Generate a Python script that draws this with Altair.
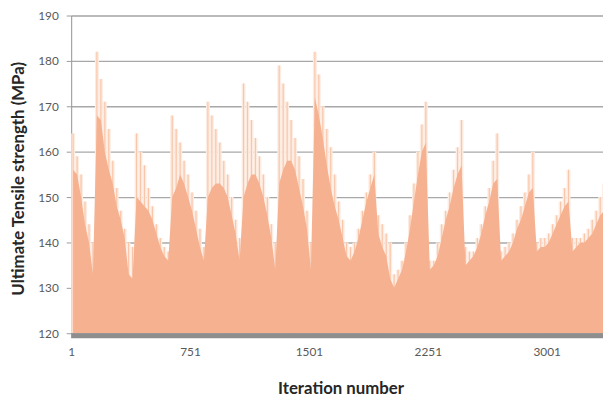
import altair as alt
import pandas as pd

# Iteration bins (each value covers STEP iterations)
STEP = 25
upper = [164, 159, 155, 149, 144, 140,
         182, 176, 171, 165, 158, 152, 147, 143, 140, 139,
         164, 160, 157, 152, 148, 144, 141, 139, 138,
         168, 165, 162, 158, 155, 151, 147, 143, 139,
         171, 168, 165, 162, 158, 155, 150, 145, 141,
         175, 171, 167, 163, 159, 155, 150, 144, 140,
         179, 175, 171, 167, 163, 159, 154, 147, 140,
         182, 177, 170, 165, 161, 155, 149, 145, 140,
         139, 140, 143, 147, 151, 155, 160,
         146, 144, 142, 140, 133, 134, 136, 140, 146, 153, 160, 166, 171,
         136, 136, 140, 144, 147, 151, 156, 161, 167,
         139, 138, 138, 141, 144, 148, 152, 158, 164,
         138, 139, 140, 142, 145, 148, 151, 155, 160,
         140, 141, 141, 142, 144, 146, 149, 152, 156,
         141, 141, 141, 142, 143, 145, 147, 150, 153]
lower = [156, 155, 150, 144, 140, 133,
         168, 167, 160, 156, 153, 148, 145, 141, 133, 132,
         150, 149, 148, 147, 145, 142, 139, 137, 136,
         150, 152, 155, 153, 150, 147, 143, 139, 136,
         150, 152, 153, 153, 152, 150, 146, 142, 136,
         150, 153, 155, 155, 153, 150, 146, 141, 134,
         153, 156, 158, 158, 156, 152, 148, 143, 134,
         172, 168, 163, 157, 152, 148, 145, 141, 137,
         136, 138, 141, 145, 149, 152, 155,
         142, 139, 137, 132, 130, 132, 134, 138, 143, 149, 155, 160, 162,
         134, 135, 137, 141, 145, 148, 152, 155, 157,
         135, 136, 137, 139, 142, 146, 149, 153, 154,
         136, 137, 138, 140, 143, 145, 148, 151, 152,
         138, 139, 139, 140, 142, 144, 146, 148, 149,
         138, 139, 140, 140, 141, 142, 144, 146, 147]
x_ticks = [1, 751, 1501, 2251, 3001]
y_ticks = [120, 130, 140, 150, 160, 170, 180, 190]

start = [1 + STEP * k for k in range(len(upper))]
df = pd.DataFrame({"start": start,
                   "end": [s + STEP for s in start],
                   "mid": [s + STEP / 2 for s in start],
                   "upper": upper,
                   "lower": lower})

FONT = "Lato"
W, H = 539, 322

xs = alt.Scale(domain=[1, 3356], nice=False, zero=False)
ys = alt.Scale(domain=[120, 190], nice=False, zero=False)

x_axis = alt.Axis(values=x_ticks, format="d", grid=False, domain=False, ticks=False,
                  labelFlush=False, labelPadding=14, labelFont=FONT,
                  labelFontSize=12, labelColor="#595959",
                  title="Iteration number", titleFont=FONT, titleFontSize=17,
                  titleFontWeight="bold", titleColor="#262626",
                  titleX=273, titleY=56, titleBaseline="middle")
y_axis = alt.Axis(values=y_ticks, grid=True, gridColor="#a8a8a8", gridWidth=1.4,
                  domainColor="#9a9a9a", tickColor="#9a9a9a", tickSize=5,
                  labelFont=FONT, labelFontSize=12, labelColor="#595959",
                  labelPadding=8,
                  title="Ultimate Tensile strength (MPa)", titleFont=FONT,
                  titleFontSize=17, titleFontWeight="bold", titleColor="#262626",
                  titleX=-53, titleY=165, titleAngle=270, titleBaseline="middle",
                  titleAlign="center")

env_fill = alt.Chart(df).mark_rect(color="#fdece2", clip=True).encode(
    x=alt.X("start:Q", scale=xs, axis=x_axis),
    x2="end:Q",
    y=alt.Y("upper:Q", scale=ys, axis=y_axis),
    y2=alt.datum(120),
)
env_lines = alt.Chart(df).mark_rule(color="#f8c6aa", strokeWidth=1.2, clip=True).encode(
    x=alt.X("mid:Q", scale=xs),
    y=alt.Y("upper:Q", scale=ys),
    y2=alt.datum(120),
)
solid = alt.Chart(df).mark_area(color="#f6b190", interpolate="linear", clip=True).encode(
    x=alt.X("mid:Q", scale=xs),
    y=alt.Y("lower:Q", scale=ys),
    y2=alt.datum(120),
)
floor = alt.Chart(pd.DataFrame({"a": [0]})).mark_rect(color="#8e8e8e").encode(
    x=alt.value(0), x2=alt.value(W), y=alt.value(H), y2=alt.value(H + 5)
)

chart = alt.layer(env_fill, env_lines, solid, floor).properties(
    width=W, height=H,
    autosize=alt.AutoSizeParams(type="none"),
    padding={"left": 64, "top": 5, "right": 0, "bottom": 63},
).configure_view(stroke=None).configure(background="white")

chart.save("out.html", embed_options={"renderer": "svg", "actions": False})
